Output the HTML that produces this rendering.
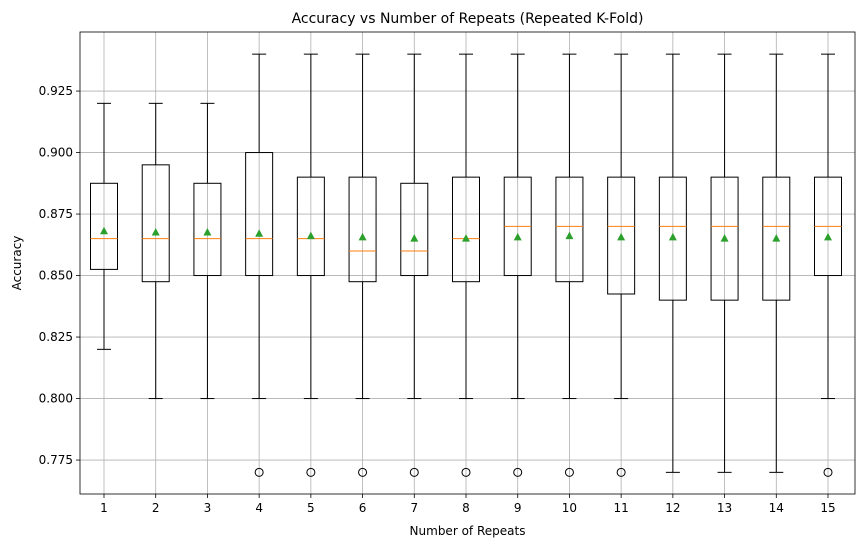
<!DOCTYPE html>
<html><head><meta charset="utf-8"><style>
body{margin:0;background:#fff;font-family:"Liberation Sans","DejaVu Sans",sans-serif}
</style></head><body>
<svg id="chart" width="863" height="547" xmlns="http://www.w3.org/2000/svg" font-family="DejaVu Sans, Liberation Sans, sans-serif"></svg>
<script>
const categories=[1,2,3,4,5,6,7,8,9,10,11,12,13,14,15];
const whiskerLow=[0.820,0.800,0.800,0.800,0.800,0.800,0.800,0.800,0.800,0.800,0.800,0.770,0.770,0.770,0.800];
const q1=[0.8525,0.8475,0.850,0.850,0.850,0.8475,0.850,0.8475,0.850,0.8475,0.8425,0.840,0.840,0.840,0.850];
const medians=[0.865,0.865,0.865,0.865,0.865,0.860,0.860,0.865,0.870,0.870,0.870,0.870,0.870,0.870,0.870];
const q3=[0.8875,0.895,0.8875,0.900,0.890,0.890,0.8875,0.890,0.890,0.890,0.890,0.890,0.890,0.890,0.890];
const whiskerHigh=[0.920,0.920,0.920,0.940,0.940,0.940,0.940,0.940,0.940,0.940,0.940,0.940,0.940,0.940,0.940];
const means=[0.868,0.8675,0.8675,0.867,0.866,0.8655,0.865,0.865,0.8655,0.866,0.8655,0.8655,0.865,0.865,0.8655];
const outliers=[[],[],[],[0.770],[0.770],[0.770],[0.770],[0.770],[0.770],[0.770],[0.770],[],[],[],[0.770]];
const yTicks=[0.775,0.800,0.825,0.850,0.875,0.900,0.925];

const L=80,R=855,T=32,B=494;
const yMin=0.7612,yMax=0.9490;
const x=i=>104+(i-1)*(828-104)/14;
const y=v=>B-(v-yMin)/(yMax-yMin)*(B-T);
const svg=document.getElementById('chart');
const NS='http://www.w3.org/2000/svg';
function mk(tag,attrs,parent){const e=document.createElementNS(NS,tag);for(const k in attrs)e.setAttribute(k,attrs[k]);(parent||svg).appendChild(e);return e;}

const grid=mk('g',{});


yTicks.forEach(t=>{
  mk('line',{x1:L,x2:R,y1:y(t),y2:y(t),stroke:'#b0b0b0','stroke-width':0.8},grid);
  mk('line',{x1:L-4,x2:L,y1:y(t),y2:y(t),stroke:'#000','stroke-width':0.8});
  const tx=mk('text',{x:L-7,y:y(t)+4,'text-anchor':'end','font-size':12});
  tx.textContent=t.toFixed(3);
  
  
});
categories.forEach((c,i)=>{
  const cx=x(c);
  mk('line',{x1:cx,x2:cx,y1:T,y2:B,stroke:'#b0b0b0','stroke-width':0.8},grid);
  mk('line',{x1:cx,x2:cx,y1:B,y2:B+4,stroke:'#000','stroke-width':0.8});
  const tx=mk('text',{x:cx,y:B+18,'text-anchor':'middle','font-size':12});
  tx.textContent=c;
  
  
});
categories.forEach((c,i)=>{
  const cx=x(c),hw=13.5,cw=7;
  const g=mk('g',{});
  
  
  mk('line',{x1:cx,x2:cx,y1:y(q3[i]),y2:y(whiskerHigh[i]),stroke:'#000'},g);
  mk('line',{x1:cx,x2:cx,y1:y(q1[i]),y2:y(whiskerLow[i]),stroke:'#000'},g);
  mk('line',{x1:cx-cw,x2:cx+cw,y1:y(whiskerHigh[i]),y2:y(whiskerHigh[i]),stroke:'#000'},g);
  mk('line',{x1:cx-cw,x2:cx+cw,y1:y(whiskerLow[i]),y2:y(whiskerLow[i]),stroke:'#000'},g);
  mk('rect',{x:cx-hw,y:y(q3[i]),width:2*hw,height:y(q1[i])-y(q3[i]),fill:'none',stroke:'#000'},g);
  mk('line',{x1:cx-hw,x2:cx+hw,y1:y(medians[i]),y2:y(medians[i]),stroke:'#ff7f0e'},g);
  const my=y(means[i]);
  mk('polygon',{points:`${cx},${my-4.5} ${cx-4},${my+3} ${cx+4},${my+3}`,fill:'#2ca02c'},g);
  outliers[i].forEach(o=>mk('circle',{cx:cx,cy:y(o),r:4,fill:'none',stroke:'#000'},g));
});
const frame=mk('rect',{x:L,y:T,width:R-L,height:B-T,fill:'none',stroke:'#000','stroke-width':0.8});


const title=mk('text',{x:(L+R)/2,y:23,'text-anchor':'middle','font-size':14});
title.textContent='Accuracy vs Number of Repeats (Repeated K-Fold)';


const xt=mk('text',{x:(L+R)/2,y:535,'text-anchor':'middle','font-size':12});
xt.textContent='Number of Repeats';


const yt=mk('text',{x:21,y:(T+B)/2,'text-anchor':'middle','font-size':12,transform:`rotate(-90 21 ${(T+B)/2})`});
yt.textContent='Accuracy';


</script>
</body></html>
